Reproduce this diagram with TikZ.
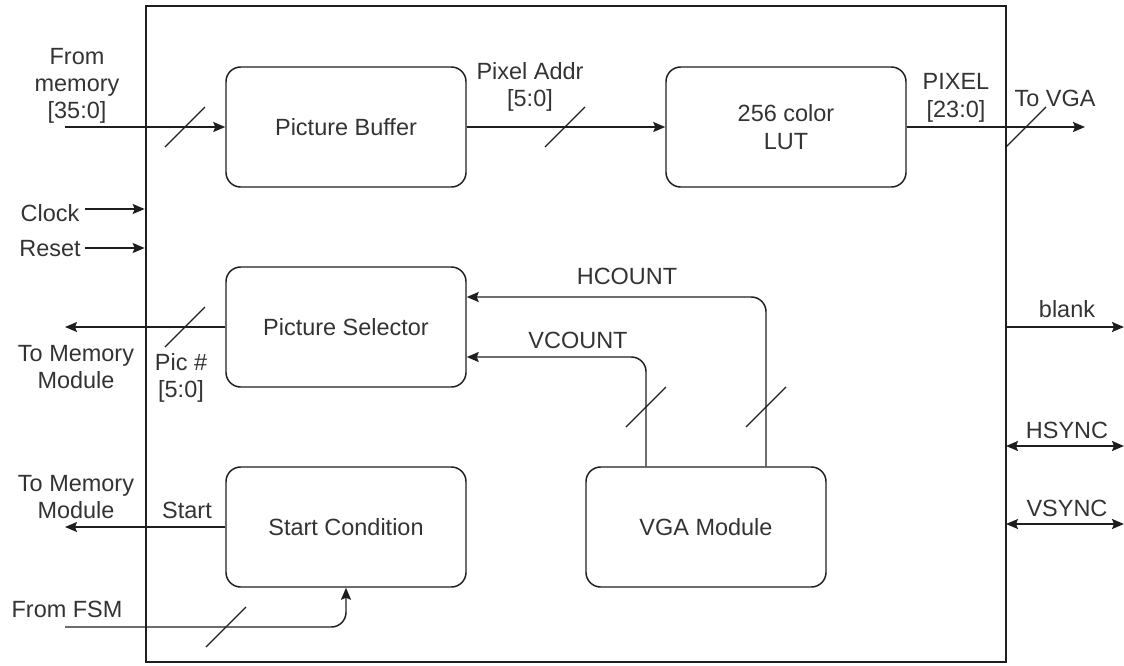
\documentclass[tikz,border=0pt]{standalone}
\usepackage{fontspec}
\setmainfont{Liberation Sans}
\usetikzlibrary{arrows.meta}
\definecolor{ln}{HTML}{1E1E1E}
\definecolor{tx}{HTML}{333333}
\begin{document}
\begin{tikzpicture}[x=0.75pt,y=-0.75pt,
  font=\fontsize{17.6}{20.5}\selectfont,
  box/.style={draw=ln,line width=1.1pt,rounded corners=11pt,minimum width=180pt,minimum height=90pt,text=tx,inner sep=0pt},
  chip/.style={draw=ln,line width=2pt,minimum width=645pt,minimum height=492pt,inner sep=0pt},
  wire/.style={draw=ln,line width=1.1pt},
  arr/.style={wire,-{Stealth[length=9pt,width=7.5pt,inset=1.5pt]}},
  barr/.style={wire,{Stealth[length=9pt,width=7.5pt,inset=1.5pt]}-{Stealth[length=9pt,width=7.5pt,inset=1.5pt]}},
  slash/.style={draw=ln,line width=1pt},
  lbl/.style={text=tx,inner sep=0pt,align=center}]
\useasboundingbox (0,0) rectangle (1124,665);
% outer block
\node[chip] (chip) at (576,334) {};
% inner modules
\node[box] (pb) at (346,127) {Picture Buffer};
\node[box,align=center] (lut) at (786,127) {256 color\\LUT};
\node[box] (ps) at (346,327) {Picture Selector};
\node[box] (sc) at (346,527) {Start Condition};
\node[box] (vga) at (706,527) {VGA Module};
% free ends
\coordinate (mem) at (65,127);
\coordinate (tovga) at (1085,127);
\coordinate (clk) at (85,209);
\coordinate (rst) at (85,248);
\coordinate (tomem1) at (65,327);
\coordinate (tomem2) at (65,527);
\coordinate (fsm) at (65,627);
\coordinate (blk) at (1124,327);
\coordinate (hs) at (1124,446);
\coordinate (vs) at (1124,524);
\coordinate (hsl) at (1006,446);
\coordinate (vsl) at (1006,524);
% connectors
\draw[arr] (mem) -- (pb.west);
\draw[arr] (pb.east) -- (lut.west);
\draw[arr] (lut.east) -- (tovga);
\draw[arr] (clk) -- (clk -| chip.west);
\draw[arr] (rst) -- (rst -| chip.west);
\draw[arr] (ps.west) -- (tomem1);
\draw[arr] (sc.west) -- (tomem2);
\draw[arr,rounded corners=11pt] (fsm) -| (sc.south);
\draw[arr,rounded corners=11pt] ([xshift=45pt]vga.north) |- ([yshift=22.5pt]ps.east);
\draw[arr,rounded corners=11pt] ([xshift=-45pt]vga.north) |- ([yshift=-22.5pt]ps.east);
\draw[arr] (blk -| chip.east) -- (blk);
\draw[barr] (hsl) -- (hs);
\draw[barr] (vsl) -- (vs);
% bus slashes
\draw[slash] (185,127) ++(-20,20) -- ++(40,-40);
\draw[slash] (565,127) ++(-20,20) -- ++(40,-40);
\draw[slash] (1026,127) ++(-20,20) -- ++(40,-40);
\draw[slash] (185,327) ++(-20,20) -- ++(40,-40);
\draw[slash] (646,407) ++(-20,20) -- ++(40,-40);
\draw[slash] (766,407) ++(-20,20) -- ++(40,-40);
\draw[slash] (226,627) ++(-20,20) -- ++(40,-40);
% labels
\node[lbl] (lmem) at (77,86) {From\\memory\\{[35:0]}};
\node[lbl] (lpa) at (530,87) {Pixel Addr\\{[5:0]}};
\node[lbl] (lpx) at (956,98) {PIXEL\\{[23:0]}};
\node[lbl] (ltv) at (1055,98) {To VGA};
\node[lbl] (lclk) at (50,213) {Clock};
\node[lbl] (lrst) at (50,249) {Reset};
\node[lbl] (ltm1) at (76,367) {To Memory\\Module};
\node[lbl] (lpic) at (181,378) {Pic \#\\{[5:0]}};
\node[lbl] (lh) at (627,276) {HCOUNT};
\node[lbl] (lv) at (578,340) {VCOUNT};
\node[lbl] (lblank) at (1067,309) {blank};
\node[lbl] (lhs) at (1067,430) {HSYNC};
\node[lbl] (lvs) at (1067,508) {VSYNC};
\node[lbl] (ltm2) at (76,497) {To Memory\\Module};
\node[lbl] (lst) at (187,510) {Start};
\node[lbl] (lfsm) at (67,609) {From FSM};
\end{tikzpicture}
\end{document}
